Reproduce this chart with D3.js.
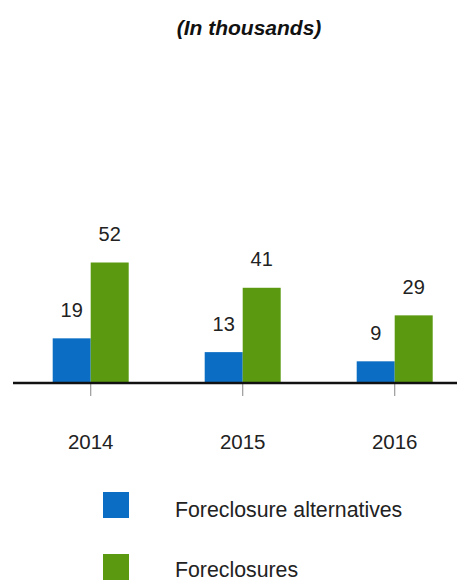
<!DOCTYPE html>
<html>
<head>
<meta charset="utf-8">
<script src="https://cdn.jsdelivr.net/npm/d3@7/dist/d3.min.js"></script>
<style>
  html, body { margin: 0; padding: 0; background: #fff; }
  svg { display: block; font-family: "Liberation Sans", Arial, sans-serif; }
</style>
</head>
<body>
<svg id="chart" width="458" height="582"></svg>
<script>
// Loan workout volumes, in thousands
const years = ["2014", "2015", "2016"];
const seriesNames = ["Foreclosure alternatives", "Foreclosures"];
const alternatives = [19, 13, 9];
const foreclosures = [52, 41, 29];
const seriesColors = ["#0b6ec4", "#5b9a10"];
const title = "(In thousands)";

const seriesValues = [alternatives, foreclosures];
const rows = years.map((yr, i) => ({
  year: yr,
  values: seriesNames.map((name, s) => ({ name, value: seriesValues[s][i], s }))
}));

const svg = d3.select("#chart");

const x0 = d3.scaleBand()
  .domain(years)
  .range([14.7, 470.7])
  .paddingInner(0.5)
  .paddingOuter(0.25);

const x1 = d3.scaleBand()
  .domain(seriesNames)
  .range([0, x0.bandwidth()])
  .padding(0);

const y = d3.scaleLinear()
  .domain([0, 52])
  .range([382, 262.5]);

// Title
svg.append("text")
  .attr("x", 249)
  .attr("y", 35)
  .attr("text-anchor", "middle")
  .attr("font-size", 21)
  .attr("font-weight", "bold")
  .attr("font-style", "italic")
  .attr("fill", "#111")
  .text(title);

// Bars
const groups = svg.append("g").selectAll("g")
  .data(rows)
  .join("g")
  .attr("transform", d => `translate(${x0(d.year)},0)`);

groups.selectAll("rect")
  .data(d => d.values)
  .join("rect")
  .attr("x", d => x1(d.name))
  .attr("y", d => y(d.value))
  .attr("width", x1.bandwidth())
  .attr("height", d => y(0) - y(d.value))
  .attr("fill", d => seriesColors[d.s]);

// Value labels
groups.selectAll("text.val")
  .data(d => d.values)
  .join("text")
  .attr("class", "val")
  .attr("x", d => x1(d.name) + x1.bandwidth() / 2)
  .attr("y", d => y(d.value) - 21.5)
  .attr("text-anchor", "middle")
  .attr("font-size", 20)
  .attr("fill", "#222")
  .text(d => d.value);

// Category axis
const axis = d3.axisBottom(x0).tickSize(14).tickPadding(38).tickSizeOuter(0);
const gAxis = svg.append("g")
  .attr("transform", `translate(0,${y(0)})`)
  .call(axis);
gAxis.select(".domain").remove();
gAxis.selectAll(".tick line")
  .attr("stroke", "#9a9a9a")
  .attr("stroke-width", 1.2);
gAxis.selectAll(".tick text")
  .attr("font-size", 20.5)
  .attr("fill", "#222")
  .attr("font-family", "\"Liberation Sans\", Arial, sans-serif");

// Baseline
svg.append("line")
  .attr("x1", 13)
  .attr("x2", 457)
  .attr("y1", y(0) + 1)
  .attr("y2", y(0) + 1)
  .attr("stroke", "#111")
  .attr("stroke-width", 2.5);

// Legend
const legend = svg.append("g").selectAll("g")
  .data(seriesNames)
  .join("g")
  .attr("transform", (d, i) => `translate(103,${492 + i * 62})`);

legend.append("rect")
  .attr("width", 26)
  .attr("height", 26)
  .attr("fill", (d, i) => seriesColors[i]);

legend.append("text")
  .attr("x", 72)
  .attr("y", (d, i) => i === 0 ? 25 : 23)
  .attr("font-size", 21.3)
  .attr("fill", "#222")
  .text(d => d);
</script>
</body>
</html>
